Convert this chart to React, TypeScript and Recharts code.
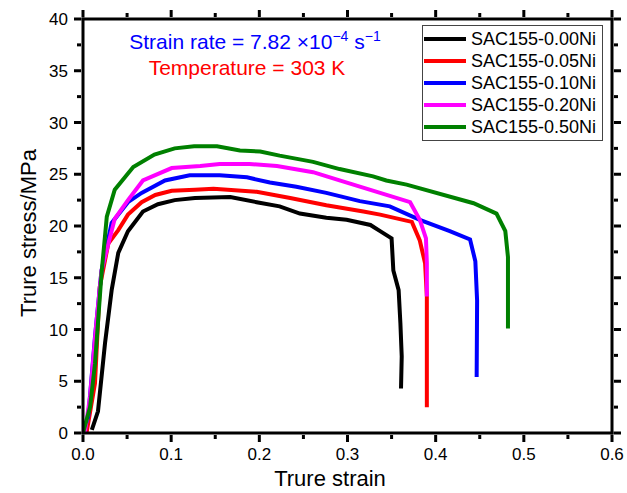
import React from "react";
import { LineChart, Line, XAxis, YAxis, Legend, Customized } from "recharts";

const FONT = "'Liberation Sans', Arial, Helvetica, sans-serif";

// tick positions (majors get a label, the others are minor ticks)
const xTicks = [0, 0.05, 0.1, 0.15, 0.2, 0.25, 0.3, 0.35, 0.4, 0.45, 0.5, 0.55, 0.6];
const yTicks = [0, 2.5, 5, 7.5, 10, 12.5, 15, 17.5, 20, 22.5, 25, 27.5, 30, 32.5, 35, 37.5, 40];

const seriesNames = ["SAC155-0.00Ni", "SAC155-0.05Ni", "SAC155-0.10Ni", "SAC155-0.20Ni", "SAC155-0.50Ni"];
const seriesColors = ["#000000", "#ff0000", "#0000ff", "#ff00ff", "#008000"];

// [true strain, true stress (MPa)]
const ni000: [number, number][] = [
  [0.01, 0.3], [0.017, 2.1], [0.025, 8.7], [0.0325, 13.8], [0.04, 17.4], [0.051, 19.5],
  [0.068, 21.4], [0.085, 22.1], [0.104, 22.5], [0.127, 22.7], [0.167, 22.8], [0.197, 22.3],
  [0.223, 21.9], [0.246, 21.2], [0.276, 20.8], [0.299, 20.6], [0.326, 20.1], [0.337, 19.5],
  [0.35, 18.8], [0.352, 15.7], [0.358, 13.8], [0.36, 10.6], [0.3615, 7.4], [0.3607, 4.3],
];
const ni005: [number, number][] = [
  [0.004, 0], [0.0136, 4.8], [0.019, 14.1], [0.0287, 18.3], [0.04, 19.6], [0.051, 21.1],
  [0.0665, 22.3], [0.082, 23.0], [0.1006, 23.4], [0.127, 23.5], [0.148, 23.6], [0.197, 23.3],
  [0.235, 22.7], [0.276, 22.0], [0.318, 21.4], [0.337, 21.1], [0.373, 20.4], [0.382, 18.6],
  [0.388, 16.4], [0.39, 13.2], [0.39, 2.5],
];
const ni010: [number, number][] = [
  [0, 0], [0.006, 1.6], [0.0136, 9.3], [0.021, 15.7], [0.0325, 20.3], [0.051, 22.3],
  [0.0665, 23.2], [0.093, 24.4], [0.121, 24.9], [0.155, 24.9], [0.186, 24.7], [0.212, 24.2],
  [0.242, 23.8], [0.276, 23.2], [0.314, 22.4], [0.348, 21.9], [0.382, 20.6], [0.416, 19.5],
  [0.439, 18.7], [0.445, 16.6], [0.447, 12.8], [0.4465, 5.4],
];
const ni020: [number, number][] = [
  [0.002, 0], [0.008, 3.5], [0.015, 10.5], [0.021, 15.7], [0.036, 20.7], [0.051, 22.5],
  [0.068, 24.4], [0.1006, 25.6], [0.133, 25.8], [0.155, 26.0], [0.189, 26.0], [0.22, 25.8],
  [0.261, 25.2], [0.291, 24.4], [0.337, 23.2], [0.371, 22.3], [0.382, 20.6], [0.389, 18.8],
  [0.39, 16.4], [0.39, 13.2],
];
const ni050: [number, number][] = [
  [0, 0], [0.008, 2.5], [0.0136, 6.7], [0.021, 15.4], [0.027, 20.9], [0.036, 23.5],
  [0.057, 25.7], [0.081, 26.9], [0.104, 27.5], [0.126, 27.7], [0.152, 27.7], [0.178, 27.3],
  [0.201, 27.2], [0.223, 26.8], [0.261, 26.2], [0.291, 25.5], [0.329, 24.8], [0.344, 24.4],
  [0.367, 24.0], [0.443, 22.2], [0.469, 21.2], [0.479, 19.5], [0.482, 17.0], [0.482, 10.1],
];

const seriesData = [ni000, ni005, ni010, ni020, ni050].map((s) => s.map(([x, y]) => ({ x, y })));

const isMajorX = (v: number) => Math.round(v * 100) % 10 === 0;
const isMajorY = (v: number) => Math.round(v * 10) % 50 === 0;

const BottomTick = (props: any) => {
  const { x, y, payload } = props;
  const major = isMajorX(payload.value);
  return (
    <g>
      <line x1={x} x2={x} y1={y} y2={y + (major ? 7 : 4)} stroke="#000" strokeWidth={3} />
      {major && (
        <text x={x} y={y + 25} textAnchor="middle" fontSize={17} fontFamily={FONT} fill="#000">
          {payload.value.toFixed(1)}
        </text>
      )}
    </g>
  );
};

const TopTick = (props: any) => {
  const { x, y, payload } = props;
  const major = isMajorX(payload.value);
  return <line x1={x} x2={x} y1={y} y2={y - (major ? 7 : 4)} stroke="#000" strokeWidth={3} />;
};

const LeftTick = (props: any) => {
  const { x, y, payload } = props;
  const major = isMajorY(payload.value);
  return (
    <g>
      <line x1={x} x2={x - (major ? 7 : 4)} y1={y} y2={y} stroke="#000" strokeWidth={3} />
      {major && (
        <text x={x - 13} y={y + 6} textAnchor="end" fontSize={17} fontFamily={FONT} fill="#000">
          {payload.value}
        </text>
      )}
    </g>
  );
};

const RightTick = (props: any) => {
  const { x, y, payload } = props;
  const major = isMajorY(payload.value);
  return <line x1={x} x2={x + (major ? 7 : 4)} y1={y} y2={y} stroke="#000" strokeWidth={3} />;
};

const Texts = () => (
  <g fontFamily={FONT}>
    <text x={330} y={486} textAnchor="middle" fontSize={22} fill="#000">Trure strain</text>
    <text transform="translate(36,233) rotate(-90)" textAnchor="middle" fontSize={22} fill="#000">
      Trure stress/MPa
    </text>
    <text x={255} y={49} textAnchor="middle" fontSize={21} fill="#0000ff">
      Strain rate = 7.82 ×10<tspan dy={-8} fontSize={14}>−4</tspan>
      <tspan dy={8}> s</tspan>
      <tspan dy={-8} fontSize={14}>−1</tspan>
    </text>
    <text x={247} y={75} textAnchor="middle" fontSize={21} fill="#ff0000">Temperature = 303 K</text>
  </g>
);

const LegendBox = (props: any) => (
  <div
    style={{
      border: "1px solid #444",
      background: "#fff",
      padding: "2px 0 2px 1px",
      fontFamily: FONT,
      fontSize: 18,
      color: "#000",
      width: 178,
    }}
  >
    {(props.payload || []).map((e: any) => (
      <div key={e.value} style={{ display: "flex", alignItems: "center", height: 22 }}>
        <span style={{ display: "inline-block", width: 42, height: 4, background: e.color, marginRight: 5 }} />
        {e.value}
      </div>
    ))}
  </div>
);

export default function App() {
  return (
    <div style={{ position: "absolute", left: 0, top: 0, width: 627, height: 493, background: "#fff" }}>
      <LineChart width={627} height={493} margin={{ top: 18, right: 14, bottom: 30, left: 33 }}>
        <XAxis
          type="number"
          dataKey="x"
          domain={[0, 0.6]}
          ticks={xTicks}
          interval={0}
          tickSize={0}
          tickLine={false}
          tick={<BottomTick />}
          axisLine={{ stroke: "#000", strokeWidth: 3, strokeLinecap: "square" }}
          height={30}
          allowDataOverflow
        />
        <XAxis
          xAxisId="top"
          orientation="top"
          type="number"
          dataKey="x"
          domain={[0, 0.6]}
          ticks={xTicks}
          interval={0}
          tickSize={0}
          tickLine={false}
          tick={<TopTick />}
          axisLine={{ stroke: "#000", strokeWidth: 3, strokeLinecap: "square" }}
          height={1}
          allowDataOverflow
        />
        <YAxis
          type="number"
          domain={[0, 40]}
          ticks={yTicks}
          interval={0}
          tickSize={0}
          tickLine={false}
          tick={<LeftTick />}
          axisLine={{ stroke: "#000", strokeWidth: 3, strokeLinecap: "square" }}
          width={50}
          allowDataOverflow
        />
        <YAxis
          yAxisId="right"
          orientation="right"
          type="number"
          domain={[0, 40]}
          ticks={yTicks}
          interval={0}
          tickSize={0}
          tickLine={false}
          tick={<RightTick />}
          axisLine={{ stroke: "#000", strokeWidth: 3, strokeLinecap: "square" }}
          width={1}
          allowDataOverflow
        />
        {seriesData.map((d, i) => (
          <Line
            key={seriesNames[i]}
            data={d}
            dataKey="y"
            name={seriesNames[i]}
            type="linear"
            stroke={seriesColors[i]}
            strokeWidth={4}
            dot={false}
            activeDot={false}
            isAnimationActive={false}
          />
        ))}
        <Legend
          layout="vertical"
          align="center"
          verticalAlign="middle"
          content={<LegendBox />}
          wrapperStyle={{ left: 422, top: 25, width: 180 }}
        />
        <Customized component={Texts} />
      </LineChart>
    </div>
  );
}
